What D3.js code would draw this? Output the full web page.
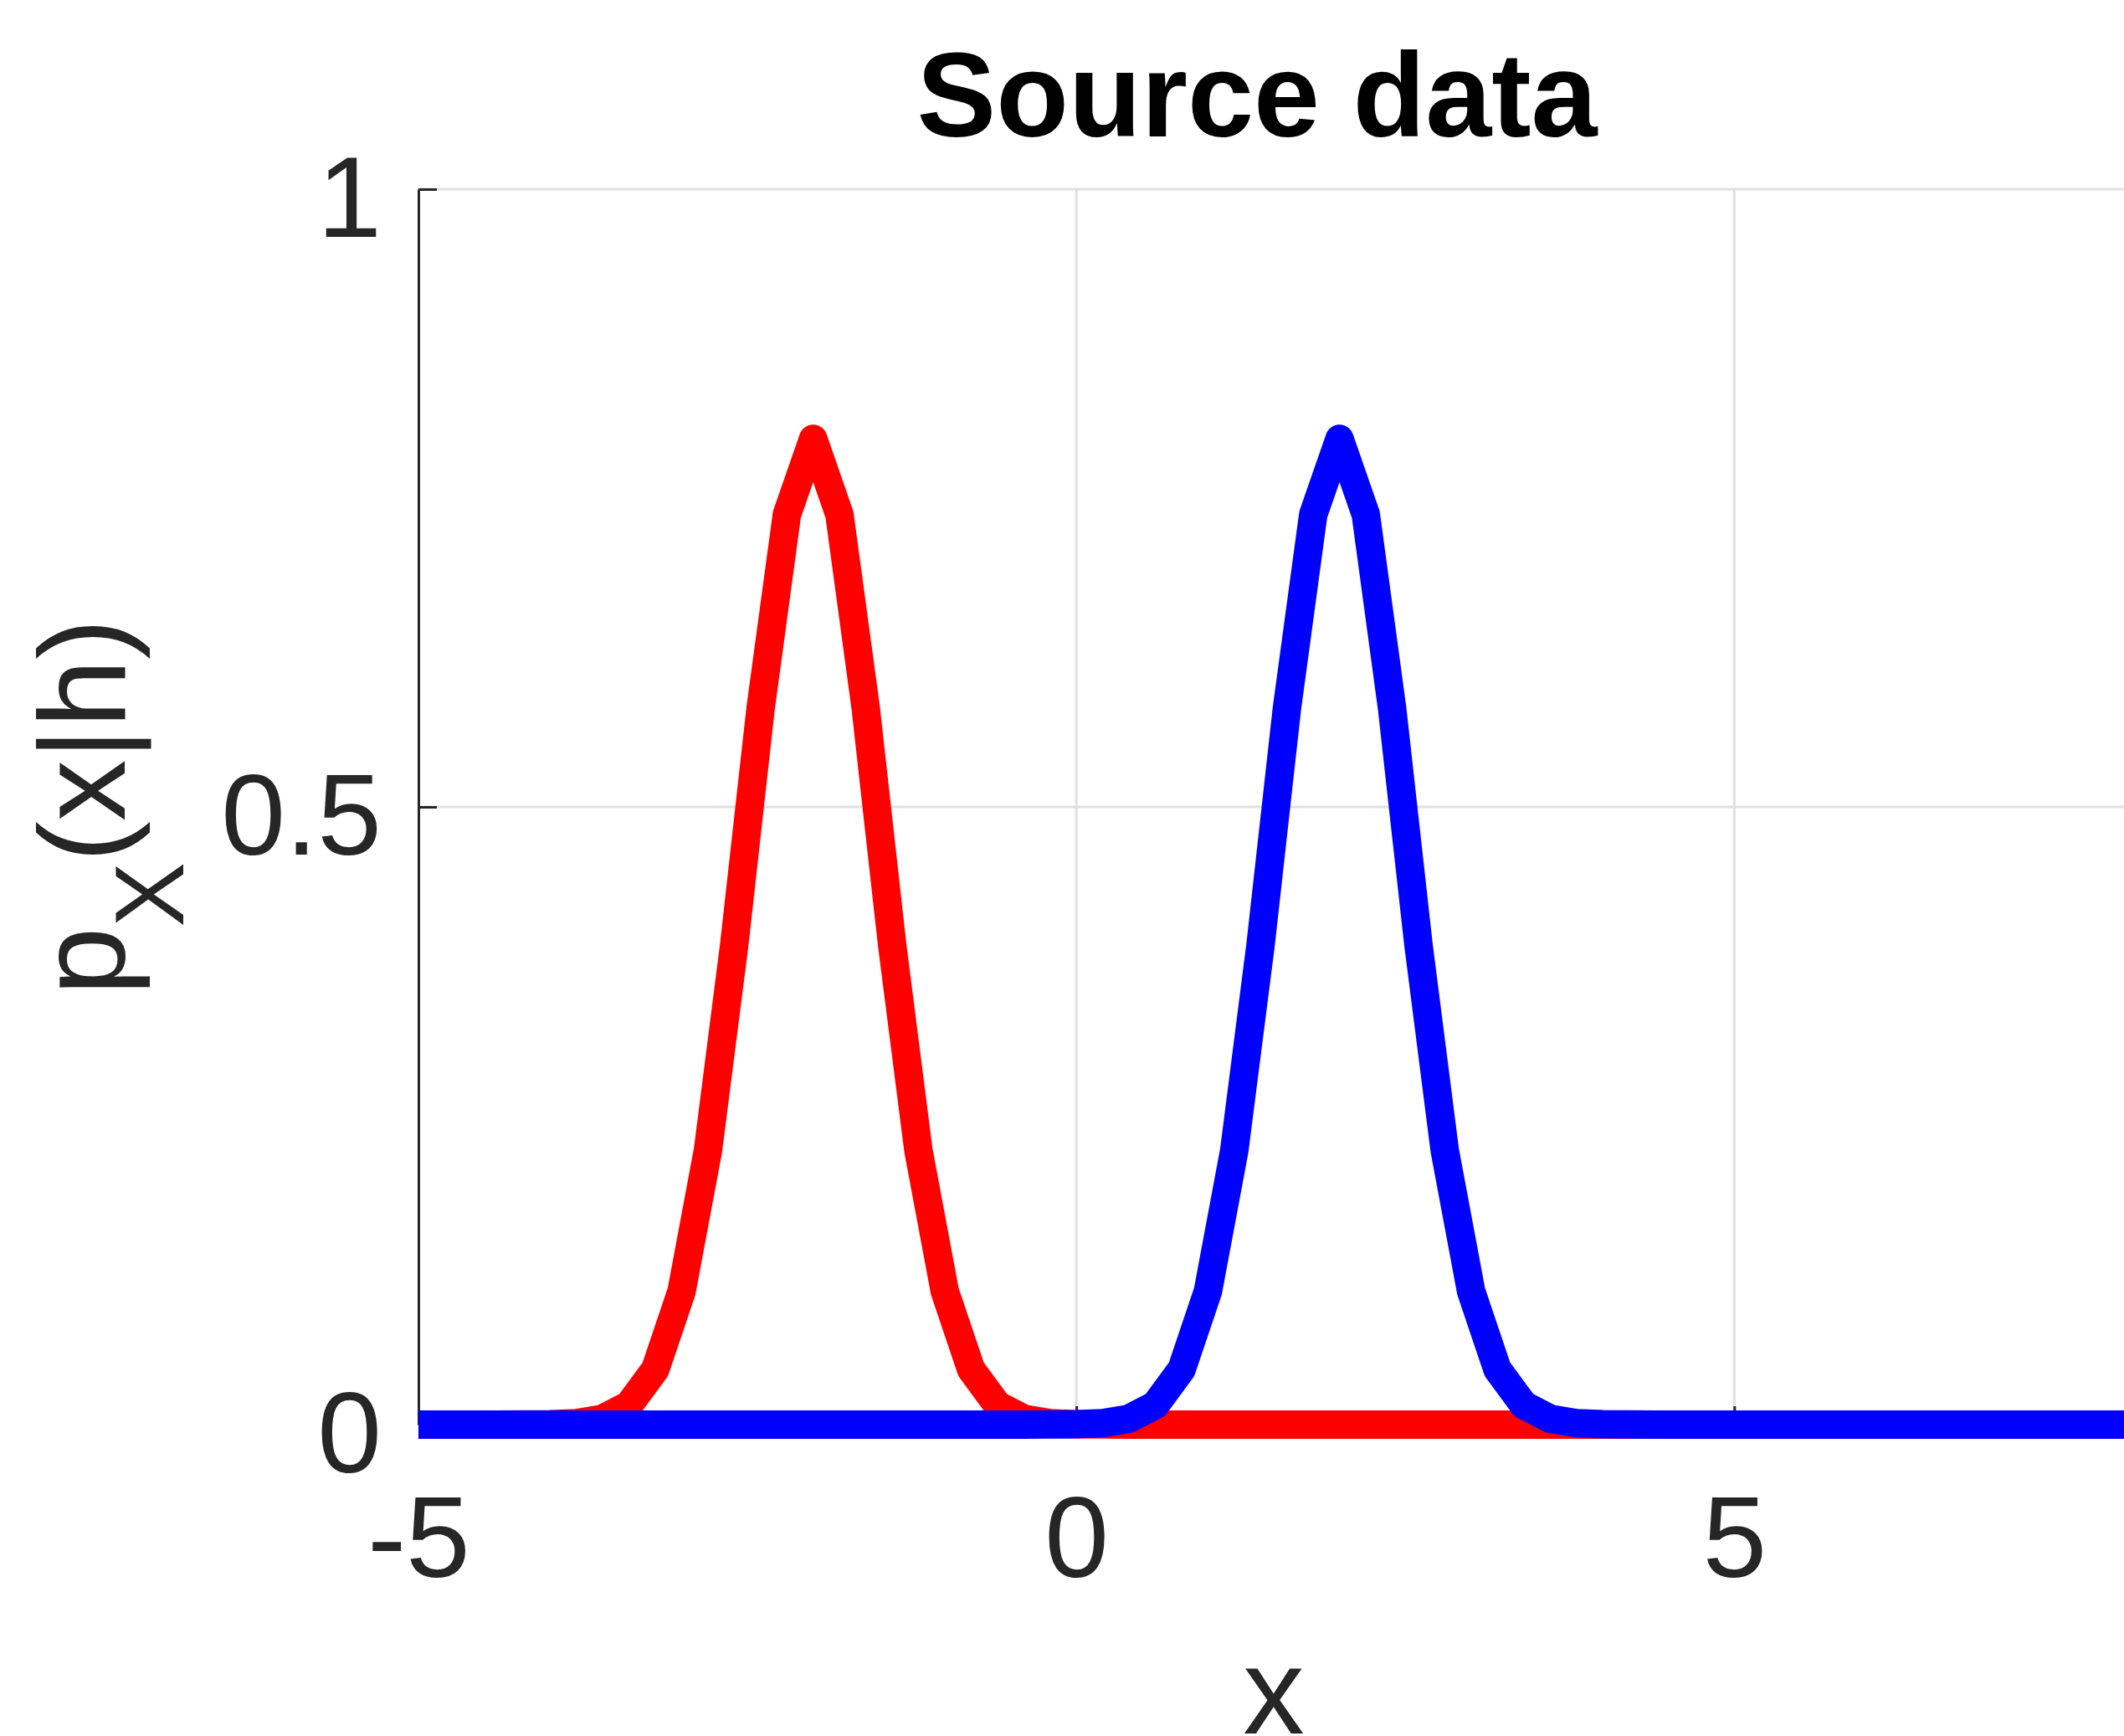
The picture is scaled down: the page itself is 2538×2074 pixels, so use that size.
<!DOCTYPE html>
<html>
<head>
<meta charset="utf-8">
<script src="https://cdn.jsdelivr.net/npm/d3@7"></script>
<style>
  html, body { margin: 0; padding: 0; background: #fff; overflow: hidden; }
  svg { display: block; font-family: "Liberation Sans", Arial, Helvetica, sans-serif; }
</style>
</head>
<body>
<svg id="chart" width="2538" height="2074"></svg>
<script>
// ---- data ----
const xValues = [-5,-4.8,-4.6,-4.4,-4.2,-4,-3.8,-3.6,-3.4,-3.2,
  -3,-2.8,-2.6,-2.4,-2.2,-2,-1.8,-1.6,-1.4,-1.2,
  -1,-0.8,-0.6,-0.4,-0.2,0,0.2,0.4,0.6,0.8,
  1,1.2,1.4,1.6,1.8,2,2.2,2.4,2.6,2.8,
  3,3.2,3.4,3.6,3.8,4,4.2,4.4,4.6,4.8,
  5,5.2,5.4,5.6,5.8,6,6.2,6.4,6.6,6.8,
  7,7.2,7.4,7.6,7.8,8];
const redValues = [0,0,0,0,0.0001,0.0003,0.0012,0.0048,0.0158,0.0448,
  0.1080,0.2218,0.3884,0.5794,0.7365,0.7979,0.7365,0.5794,0.3884,0.2218,
  0.1080,0.0448,0.0158,0.0048,0.0012,0.0003,0.0001,0,0,0,
  0,0,0,0,0,0,0,0,0,0,
  0,0,0,0,0,0,0,0,0,0,
  0,0,0,0,0,0,0,0,0,0,
  0,0,0,0,0,0];
const blueValues = [0,0,0,0,0,0,0,0,0,0,
  0,0,0,0,0,0,0,0,0,0,
  0,0,0,0,0.0001,0.0003,0.0012,0.0048,0.0158,0.0448,
  0.1080,0.2218,0.3884,0.5794,0.7365,0.7979,0.7365,0.5794,0.3884,0.2218,
  0.1080,0.0448,0.0158,0.0048,0.0012,0.0003,0.0001,0,0,0,
  0,0,0,0,0,0,0,0,0,0,
  0,0,0,0,0,0];
const xTicks = [-5, 0, 5];
const xTickLabels = ["-5", "0", "5"];
const yTicks = [0, 0.5, 1];
const yTickLabels = ["0", "0.5", "1"];
const titleText = "Source data";
const xLabelText = "x";

// ---- layout ----
const svg = d3.select("#chart");
const pLeft = 500, pRight = 2544, pTop = 226, pBottom = 1702;
const x = d3.scaleLinear().domain([-5, 8]).range([pLeft, pRight]);
const y = d3.scaleLinear().domain([0, 1]).range([pBottom, pTop]);
const textColor = "#262626";

// grid
const grid = svg.append("g");
grid.selectAll("line.gx").data(xTicks.filter(d => d !== -5)).join("line")
  .attr("x1", d => x(d)).attr("x2", d => x(d))
  .attr("y1", pTop).attr("y2", pBottom)
  .attr("stroke", "#e0e0e0").attr("stroke-width", 3);
grid.selectAll("line.gy").data(yTicks.filter(d => d !== 0)).join("line")
  .attr("x1", pLeft).attr("x2", pRight)
  .attr("y1", d => y(d)).attr("y2", d => y(d))
  .attr("stroke", "#e0e0e0").attr("stroke-width", 3);

// axes
const yAxis = d3.axisLeft(y).tickValues(yTicks)
  .tickFormat((d, i) => yTickLabels[i])
  .tickSizeInner(-22).tickSizeOuter(0).tickPadding(44);
const gy = svg.append("g").attr("transform", `translate(${pLeft},0)`).call(yAxis);
gy.selectAll("text").attr("dy", 56).attr("font-size", 138).attr("fill", textColor)
  .attr("font-family", "Liberation Sans, Arial, sans-serif");

const xAxis = d3.axisBottom(x).tickValues(xTicks)
  .tickFormat((d, i) => xTickLabels[i])
  .tickSizeInner(-22).tickSizeOuter(0).tickPadding(0);
const gx = svg.append("g").attr("transform", `translate(0,${pBottom})`).call(xAxis);
gx.selectAll("text").attr("y", 182).attr("dy", 0).attr("font-size", 138).attr("fill", textColor)
  .attr("font-family", "Liberation Sans, Arial, sans-serif");

[gx, gy].forEach(g => {
  g.selectAll("path.domain").attr("stroke", textColor).attr("stroke-width", 3);
  g.selectAll(".tick line").attr("stroke", textColor).attr("stroke-width", 3);
});

// lines
const line = d3.line().x((d, i) => x(xValues[i])).y(d => y(d));
svg.append("path").datum(redValues)
  .attr("d", line).attr("fill", "none").attr("stroke", "#ff0000")
  .attr("stroke-width", 34).attr("stroke-linejoin", "round").attr("stroke-linecap", "butt");
svg.append("path").datum(blueValues)
  .attr("d", line).attr("fill", "none").attr("stroke", "#0000ff")
  .attr("stroke-width", 34).attr("stroke-linejoin", "round").attr("stroke-linecap", "butt");

// title
svg.append("text").attr("x", 1502).attr("y", 163)
  .attr("text-anchor", "middle").attr("font-weight", "bold")
  .attr("font-size", 142).attr("fill", "#000").text(titleText);

// x label
svg.append("text").attr("x", (pLeft + pRight) / 2).attr("y", 2071)
  .attr("text-anchor", "middle").attr("font-size", 147).attr("fill", textColor)
  .text(xLabelText);

// y label  p_X(x|h)
const yl = svg.append("text")
  .attr("transform", `translate(149,${(pTop + pBottom) / 2}) rotate(-90)`)
  .attr("text-anchor", "middle").attr("font-size", 147).attr("fill", textColor);
yl.append("tspan").text("p");
yl.append("tspan").attr("dy", 70).attr("font-size", 116).text("X");
yl.append("tspan").attr("dy", -70).text("(x|h)");
</script>
</body>
</html>
